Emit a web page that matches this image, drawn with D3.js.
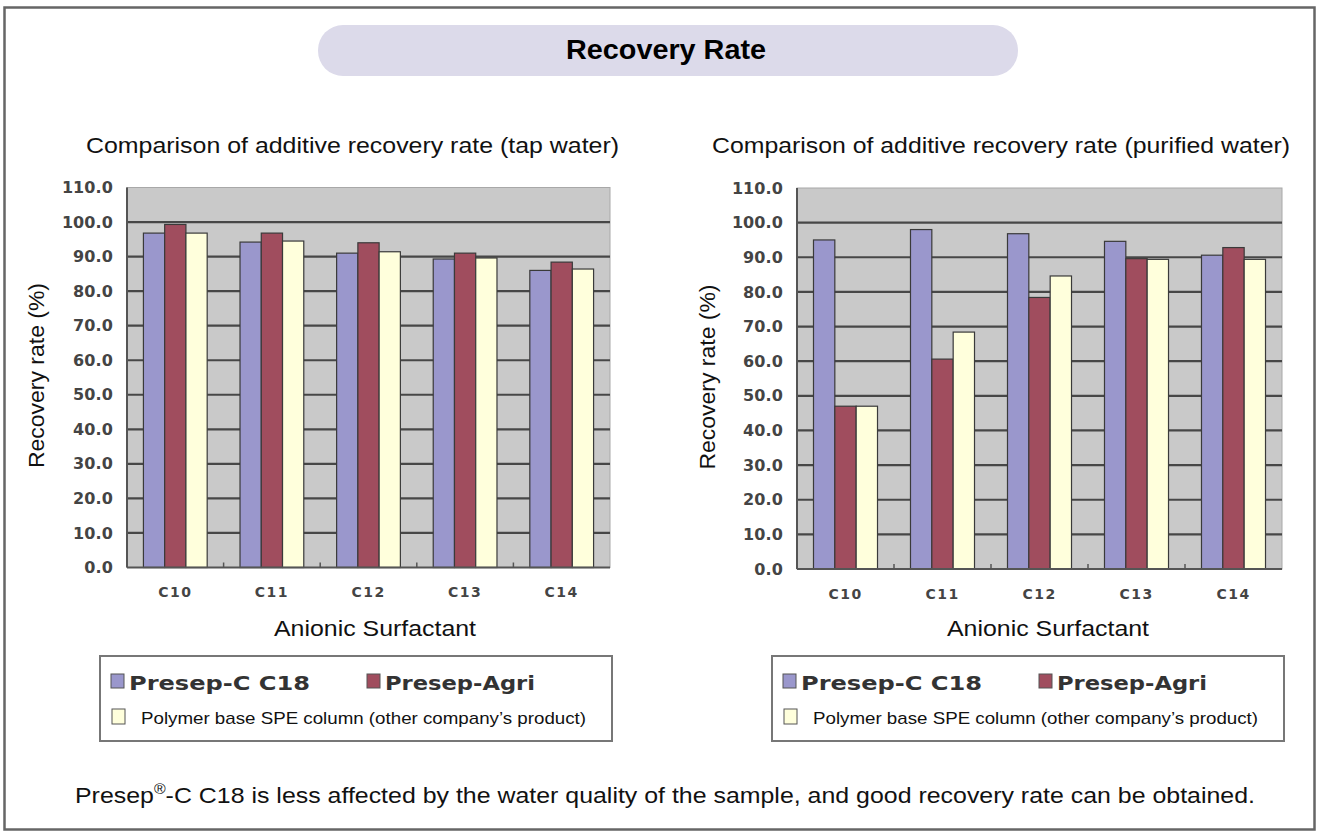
<!DOCTYPE html>
<html>
<head>
<meta charset="utf-8">
<script src="https://cdn.jsdelivr.net/npm/d3@7"></script>
<style>
  body { margin: 0; background: #fff; }
  svg { display: block; }
</style>
</head>
<body>
<svg id="chart" width="1321" height="837"></svg>
<script>
// ---- Data ----
const categories = ["C10", "C11", "C12", "C13", "C14"];
const seriesNames = ["Presep-C C18", "Presep-Agri", "Polymer base SPE column (other company\u2019s product)"];
const tapC18 = [96.8, 94.2, 91.0, 89.3, 86.0];
const tapAgri = [99.3, 96.8, 94.0, 91.0, 88.4];
const tapPolymer = [96.8, 94.5, 91.4, 89.6, 86.4];
const purC18 = [95.0, 98.0, 96.8, 94.6, 90.6];
const purAgri = [47.0, 60.6, 78.4, 89.6, 92.8];
const purPolymer = [47.0, 68.4, 84.6, 89.4, 89.4];
const yTicks = [0, 10, 20, 30, 40, 50, 60, 70, 80, 90, 100, 110];
const mainTitle = "Recovery Rate";
const chartTitles = ["Comparison of additive recovery rate (tap water)", "Comparison of additive recovery rate (purified water)"];
const yAxisTitle = "Recovery rate (%)";
const xAxisTitle = "Anionic Surfactant";
const footerParts = ["Presep", "\u00AE", "-C C18 is less affected by the water quality of the sample, and good recovery rate can be obtained."];

const colors = ["#9a97cc", "#a04d5e", "#ffffdc"];
const SANS = "Liberation Sans, Arial, sans-serif";

const svg = d3.select("#chart");

// outer frame
svg.append("rect").attr("x", 4.5).attr("y", 7.5).attr("width", 1310).attr("height", 822)
  .attr("fill", "#fff").attr("stroke", "#666").attr("stroke-width", 2.5);

// title pill
svg.append("rect").attr("x", 318).attr("y", 25).attr("width", 700).attr("height", 51)
  .attr("rx", 25).attr("fill", "#dcdaea");
svg.append("text").attr("x", 566).attr("y", 59)
  .attr("font-family", SANS).attr("font-weight", "bold")
  .attr("font-size", 27).attr("fill", "#000")
  .attr("textLength", 200).attr("lengthAdjust", "spacingAndGlyphs").text(mainTitle);

function drawChart(cfg) {
  const g = svg.append("g");
  const left = cfg.left, right = cfg.right, top = cfg.top, bottom = cfg.bottom;
  const y = d3.scaleLinear().domain([0, 110]).range([bottom, top]);
  const x0 = d3.scaleBand().domain(categories).range([left, right]).padding(0);
  const bw = x0.bandwidth();
  const x1 = d3.scaleBand().domain(d3.range(3)).range([bw * 0.17, bw * 0.83]).padding(0);

  // chart title
  g.append("text").attr("x", cfg.titleX).attr("y", 153)
    .attr("font-family", SANS).attr("font-size", 22)
    .attr("fill", "#111").attr("textLength", cfg.titleW).attr("lengthAdjust", "spacingAndGlyphs")
    .text(cfg.title);

  // plot background
  g.append("rect").attr("x", left).attr("y", top).attr("width", right - left).attr("height", bottom - top)
    .attr("fill", "#c9c9c9").attr("stroke", "#a8a8a8").attr("stroke-width", 1);

  // gridlines
  g.selectAll(".grid").data(yTicks.filter(t => t > 0 && t < 110)).join("line")
    .attr("x1", left).attr("x2", right)
    .attr("y1", d => y(d)).attr("y2", d => y(d))
    .attr("stroke", "#474747").attr("stroke-width", 2.2);

  // bars
  const series = cfg.series;
  categories.forEach((c, i) => {
    series.forEach((s, k) => {
      g.append("rect")
        .attr("x", x0(c) + x1(k))
        .attr("y", y(s[i]))
        .attr("width", x1.bandwidth())
        .attr("height", bottom - y(s[i]))
        .attr("fill", colors[k])
        .attr("stroke", "#3a3a3a").attr("stroke-width", 1.2);
    });
  });

  // axes lines
  g.append("line").attr("x1", left).attr("x2", left).attr("y1", top).attr("y2", bottom)
    .attr("stroke", "#555").attr("stroke-width", 2);
  g.append("line").attr("x1", left).attr("x2", right).attr("y1", bottom).attr("y2", bottom)
    .attr("stroke", "#555").attr("stroke-width", 2.2);

  // y axis ticks/labels
  const yAxis = d3.axisLeft(y).tickValues(yTicks).tickSize(0).tickPadding(14)
    .tickFormat(d => d3.format(".1f")(d));
  const ya = g.append("g").attr("transform", `translate(${left},0)`).call(yAxis);
  ya.select(".domain").remove();
  ya.selectAll("text").attr("font-family", "DejaVu Sans, sans-serif").attr("font-weight", "bold")
    .attr("font-size", 16).attr("fill", "#444").attr("letter-spacing", "0.1px");

  // x axis
  const xAxis = d3.axisBottom(x0).tickSize(0).tickPadding(20);
  const xa = g.append("g").attr("transform", `translate(0,${bottom})`).call(xAxis);
  xa.select(".domain").remove();
  xa.selectAll("text").attr("font-family", "DejaVu Sans, sans-serif").attr("font-weight", "bold")
    .attr("font-size", 14).attr("fill", "#444").attr("letter-spacing", "1.5px");
  // small boundary ticks
  g.selectAll(".bt").data(categories.slice(1)).join("line")
    .attr("x1", d => x0(d)).attr("x2", d => x0(d))
    .attr("y1", bottom).attr("y2", bottom - 5)
    .attr("stroke", "#555").attr("stroke-width", 1.5);

  // axis titles
  g.append("text").attr("transform", `translate(${cfg.yTitleX},${468 + (cfg.bottom - 567.5)}) rotate(-90)`)
    .attr("font-family", SANS)
    .attr("font-size", 22.5).attr("fill", "#111")
    .attr("textLength", 185).attr("lengthAdjust", "spacingAndGlyphs").text(yAxisTitle);
  g.append("text").attr("x", cfg.xTitleX).attr("y", 636)
    .attr("font-family", SANS).attr("font-size", 22)
    .attr("fill", "#111").attr("textLength", 202).attr("lengthAdjust", "spacingAndGlyphs").text(xAxisTitle);

  // legend
  const lx = cfg.legendX, ly = 656, lw = 512, lh = 85;
  g.append("rect").attr("x", lx).attr("y", ly).attr("width", lw).attr("height", lh)
    .attr("fill", "#fff").attr("stroke", "#777").attr("stroke-width", 2);
  const items = [
    { k: 0, sx: lx + 11, sy: 674, tx: lx + 29, ty: 690, w: 181, big: true },
    { k: 1, sx: lx + 267, sy: 674, tx: lx + 285, ty: 690, w: 150, big: true },
    { k: 2, sx: lx + 12, sy: 709, tx: lx + 41, ty: 724, w: 445, big: false }
  ];
  items.forEach(it => {
    g.append("rect").attr("x", it.sx).attr("y", it.sy).attr("width", 13).attr("height", it.big ? 14 : 15)
      .attr("fill", colors[it.k]).attr("stroke", "#555").attr("stroke-width", 1);
    const t = g.append("text").attr("x", it.tx).attr("y", it.ty)
      .attr("textLength", it.w).attr("lengthAdjust", "spacingAndGlyphs")
      .text(seriesNames[it.k]);
    if (it.big) {
      t.attr("font-family", "DejaVu Sans, sans-serif").attr("font-weight", "bold").attr("font-size", 20)
        .attr("fill", "#333");
    } else {
      t.attr("font-family", SANS).attr("font-size", 17).attr("fill", "#111");
    }
  });
}

drawChart({
  left: 127, right: 610, top: 187.5, bottom: 567.5,
  titleX: 86, titleW: 533, title: chartTitles[0], yTitleX: 44, xTitleX: 274, legendX: 100,
  series: [tapC18, tapAgri, tapPolymer]
});
drawChart({
  left: 797, right: 1282, top: 188, bottom: 569,
  titleX: 712, titleW: 578, title: chartTitles[1], yTitleX: 715, xTitleX: 947, legendX: 772,
  series: [purC18, purAgri, purPolymer]
});

// footer
const foot = svg.append("text").attr("x", 75).attr("y", 803)
  .attr("font-family", SANS).attr("font-size", 22).attr("fill", "#111");
foot.append("tspan").text(footerParts[0]);
foot.append("tspan").attr("font-size", 14).attr("dy", -9).text(footerParts[1]);
foot.append("tspan").attr("dy", 9).text(footerParts[2]);
// stretch footer to its measured width
const fw = foot.node().getComputedTextLength ? foot.node().getBBox().width : 1180;
foot.attr("transform", `translate(75,0) scale(${1180 / fw},1) translate(-75,0)`);
</script>
</body>
</html>
